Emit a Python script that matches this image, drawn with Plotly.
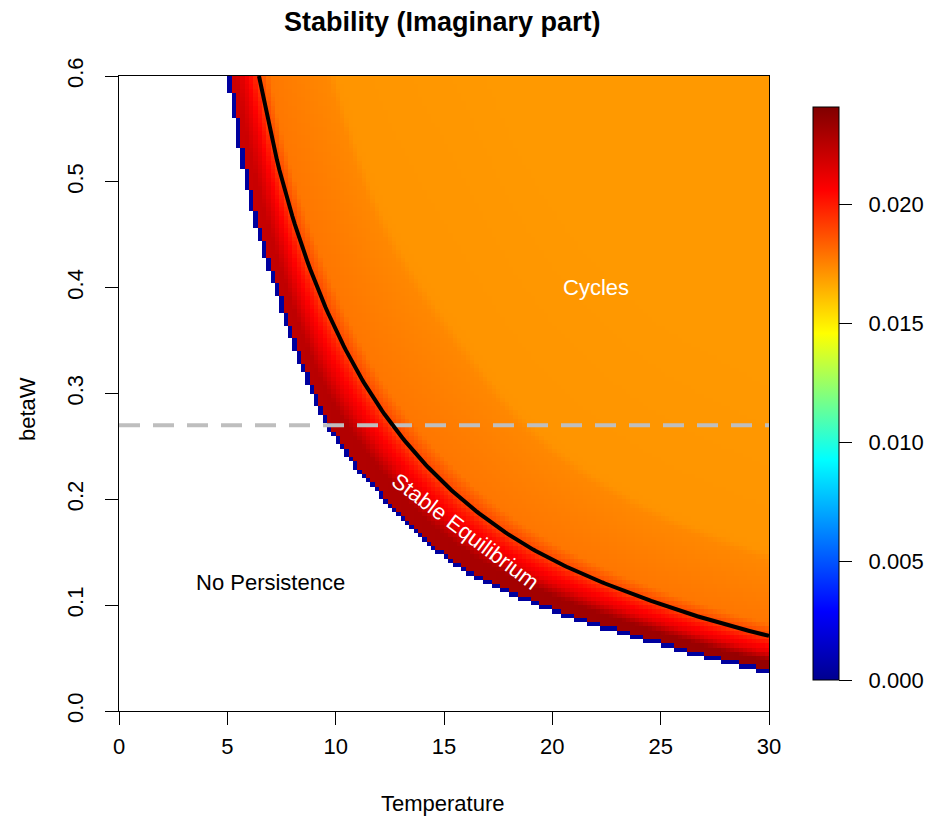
import numpy as np
import plotly.graph_objects as go

# ---- values ----
# lower edge of the coloured region (betaW at each Temperature)
boundary_T = [5.0, 5.8, 7.4, 9.6, 12.0, 16.0, 18.5, 24.6, 30.0]
boundary_b = [0.600, 0.502, 0.385, 0.270, 0.205, 0.132, 0.107, 0.065, 0.037]
# black curve
curve_T = [6.46, 7.52, 9.5, 12.7, 18.5, 24.7, 30.0]
curve_b = [0.600, 0.502, 0.383, 0.268, 0.160, 0.103, 0.071]
# colour profile across the band (0 = lower edge, 1 = black curve)
profile_s = [0.0, 0.12, 0.30, 0.55, 0.85, 1.0, 1.35, 3.05, 3.3, 8.0]
profile_v = [None, None, None, 0.0212, 0.0199, 0.0190, 0.0178, 0.0174, 0.0171, 0.0170]
# peak value next to the lower edge, by Temperature
peak_T = [5.0, 10.0, 20.0, 30.0]
peak_v = [0.0219, 0.0227, 0.0232, 0.0235]
edge_value = 0.0004          # the dark-blue rim
dashed_betaW = 0.27
z_max = 0.0241
cb_ticks = [0.000, 0.005, 0.010, 0.015, 0.020]
x_ticks = [0, 5, 10, 15, 20, 25, 30]
y_ticks = [0.0, 0.1, 0.2, 0.3, 0.4, 0.5, 0.6]
n_T, n_b = 150, 150


def pchip_log(x, xp, yp):
    """Monotone cubic through the read points (in log space), linear beyond."""
    xp = np.asarray(xp, float)
    ly = np.log(np.asarray(yp, float))
    x = np.asarray(x, float)
    h = np.diff(xp)
    d = np.diff(ly) / h
    n = len(xp)
    m = np.zeros(n)
    m[0], m[-1] = d[0], d[-1]
    for k in range(1, n - 1):
        if d[k - 1] * d[k] <= 0:
            m[k] = 0.0
        else:
            w1 = 2 * h[k] + h[k - 1]
            w2 = h[k] + 2 * h[k - 1]
            m[k] = (w1 + w2) / (w1 / d[k - 1] + w2 / d[k])
    i = np.clip(np.searchsorted(xp, x) - 1, 0, n - 2)
    t = (x - xp[i]) / h[i]
    h00 = 2 * t**3 - 3 * t**2 + 1
    h10 = t**3 - 2 * t**2 + t
    h01 = -2 * t**3 + 3 * t**2
    h11 = t**3 - t**2
    y = h00 * ly[i] + h10 * h[i] * m[i] + h01 * ly[i + 1] + h11 * h[i] * m[i + 1]
    y = np.where(x < xp[0], ly[0] + m[0] * (x - xp[0]), y)
    y = np.where(x > xp[-1], ly[-1] + m[-1] * (x - xp[-1]), y)
    return np.exp(y)


T = (np.arange(n_T) + 0.5) * 30.0 / n_T
B = (np.arange(n_b) + 0.5) * 0.6 / n_b
TT, BB = np.meshgrid(T, B)
bnd = pchip_log(TT, boundary_T, boundary_b)
crv = pchip_log(TT, curve_T, curve_b)
S = (BB - bnd) / (crv - bnd)
P = np.interp(TT, peak_T, peak_v)

Z = np.full(TT.shape, np.nan)
valid = (BB + 0.3 * 0.6 / n_b) >= bnd
for k in range(len(profile_s) - 1):
    s0, s1 = profile_s[k], profile_s[k + 1]
    v0 = P if profile_v[k] is None else profile_v[k]
    v1 = P if profile_v[k + 1] is None else profile_v[k + 1]
    m = valid & (S >= s0) & (S < s1)
    f = (S - s0) / (s1 - s0)
    Z = np.where(m, v0 + (v1 - v0) * f, Z)
Z = np.where(valid & (S < 0), P, Z)
Z = np.where(valid & (S >= profile_s[-1]), profile_v[-1], Z)
below = np.vstack([np.zeros((1, n_T), bool), valid[:-1, :]])
left = np.hstack([np.zeros((n_b, 1), bool), valid[:, :-1]])
rim = valid & (~below | ~left)
Z = np.where(rim, edge_value, Z)

# black curve drawn through the read points (monotone smooth path)
line_T = np.linspace(curve_T[0], curve_T[-1], 200)
line_b = pchip_log(line_T, curve_T, curve_b)

jet = [
    [0.0, "rgb(0,0,143)"],
    [0.12, "rgb(0,0,255)"],
    [0.385, "rgb(0,255,255)"],
    [0.605, "rgb(255,255,0)"],
    [0.855, "rgb(255,0,0)"],
    [1.0, "rgb(128,0,0)"],
]

FONT = "Liberation Sans, Arial, Helvetica, sans-serif"
FS = 22

fig = go.Figure()
fig.add_trace(go.Heatmap(
    x=T, y=B, z=Z, zmin=0, zmax=z_max, colorscale=jet,
    hoverinfo="skip",
    colorbar=dict(
        x=(813 - 119) / 650, xanchor="left", xpad=0,
        y=0.5, yanchor="middle", ypad=0,
        len=573 / 635, lenmode="fraction",
        thickness=26, thicknessmode="pixels",
        outlinewidth=1, outlinecolor="black",
        tickvals=cb_ticks,
        ticktext=["&nbsp;&nbsp;" + f"{v:.3f}" for v in cb_ticks],
        ticks="outside", ticklen=13, tickwidth=1, tickcolor="black",
        tickfont=dict(family=FONT, size=FS, color="black"),
    ),
))

fig.add_trace(go.Scatter(
    x=[0, 30], y=[dashed_betaW, dashed_betaW], mode="lines",
    line=dict(color="rgb(190,190,190)", width=4, dash="21px,13px"),
    hoverinfo="skip", showlegend=False,
))
fig.add_trace(go.Scatter(
    x=line_T, y=line_b, mode="lines",
    line=dict(color="black", width=4),
    hoverinfo="skip", showlegend=False,
))

fig.update_layout(
    width=928, height=824,
    margin=dict(l=119, r=159, t=76, b=113, autoexpand=False),
    paper_bgcolor="white", plot_bgcolor="white",
    showlegend=False,
    font=dict(family=FONT, size=FS, color="black"),
    xaxis=dict(range=[0, 30], tickvals=x_ticks, ticks="outside", ticklen=13,
               tickwidth=1, tickcolor="black", showgrid=False, zeroline=False,
               showline=True, linecolor="black", linewidth=1, mirror=True,
               ticklabelstandoff=3,
               tickfont=dict(family=FONT, size=FS, color="black")),
    yaxis=dict(range=[0, 0.6], tickvals=y_ticks,
               ticktext=[f"{v:.1f}" for v in y_ticks],
               ticks="outside", ticklen=13,
               tickwidth=1, tickcolor="black", showgrid=False, zeroline=False,
               showline=True, linecolor="black", linewidth=1, mirror=True,
               tickangle=-90, ticklabelstandoff=13,
               tickfont=dict(family=FONT, size=FS, color="black")),
    annotations=[
        dict(text="<b>Stability (Imaginary part)</b>", xref="paper", yref="paper",
             x=0.498, y=1 + 54 / 635, xanchor="center", yanchor="middle",
             showarrow=False, font=dict(family=FONT, size=27, color="black")),
        dict(text="Temperature", xref="paper", yref="paper",
             x=0.498, y=-92 / 635, xanchor="center", yanchor="middle",
             showarrow=False, font=dict(family=FONT, size=FS, color="black")),
        dict(text="betaW", xref="paper", yref="paper",
             x=-92 / 650, y=(711 - 409) / 635, xanchor="center", yanchor="middle",
             textangle=-90, showarrow=False,
             font=dict(family=FONT, size=FS, color="black")),
        dict(text="Cycles", x=22.0, y=0.40, showarrow=False,
             font=dict(family=FONT, size=FS, color="white")),
        dict(text="No Persistence", x=7.0, y=0.121, showarrow=False,
             font=dict(family=FONT, size=FS, color="black")),
        dict(text="Stable Equilibrium", x=16.0, y=0.170, showarrow=False,
             textangle=37,
             font=dict(family=FONT, size=FS, color="white")),
    ],
)

fig.write_html("out.html")
